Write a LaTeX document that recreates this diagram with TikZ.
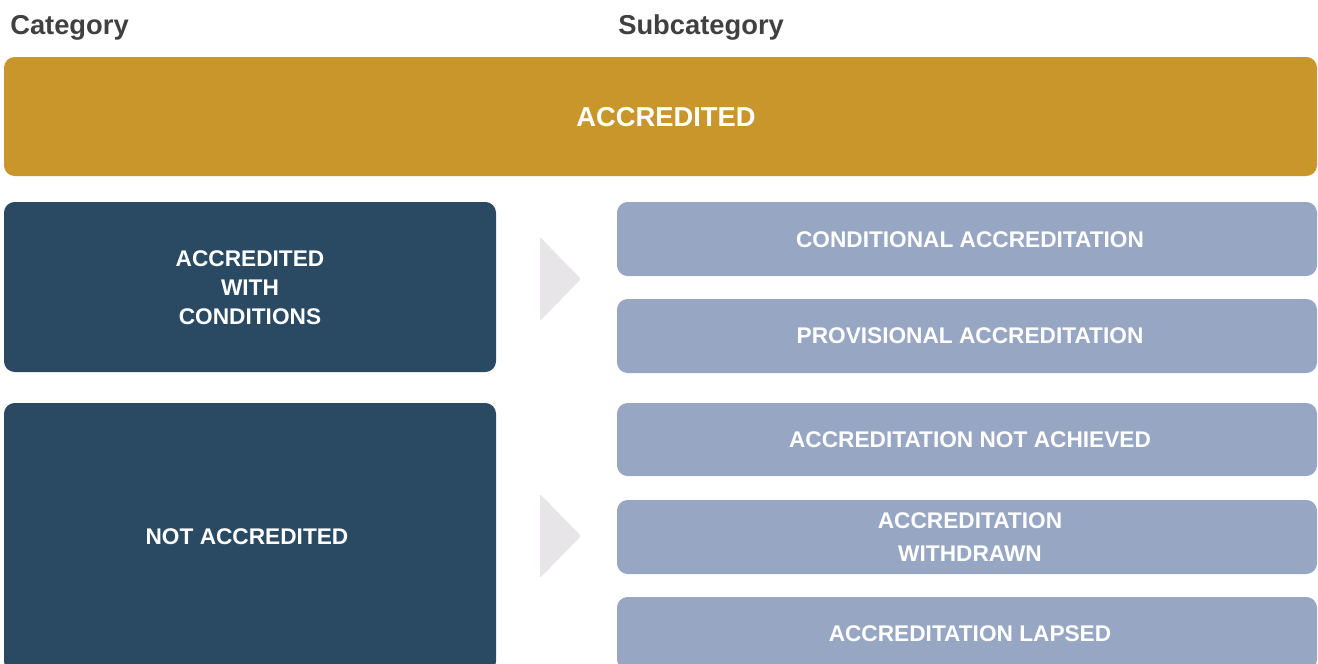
\documentclass[tikz,border=0pt]{standalone}
\usepackage{fontspec}
\setmainfont{Liberation Sans}
\usepackage{xcolor}
\usepackage{tikz}
\definecolor{accgold}{HTML}{C9962B}
\definecolor{accnavy}{HTML}{2A4A64}
\definecolor{accblue}{HTML}{97A6C3}
\definecolor{accarrow}{HTML}{E7E5E7}
\definecolor{headgrey}{HTML}{404040}
\tikzset{%
    catbox/.style={fill=accnavy, rounded corners=8pt},
    subbox/.style={fill=accblue, rounded corners=8pt},
    boxtext/.style={text=white, font=\bfseries\fontsize{17}{21.75}\selectfont, align=center, inner sep=0pt},
    headtext/.style={text=headgrey, font=\bfseries\fontsize{20.5}{24}\selectfont, anchor=base west, inner sep=0pt}
}

\begin{document}
\begin{tikzpicture}[x=0.75pt, y=-0.75pt]
  \useasboundingbox (0,0) rectangle (1318,664);
  \clip (0,0) rectangle (1318,664);

  \node[headtext] (cat) at (10,34) {Category};
  \node[headtext] (subcat) at (618,34) {Subcategory};

  \fill[accgold, rounded corners=8pt] (4,57) rectangle (1317,176);
  \node[boxtext, font=\bfseries\fontsize{20.5}{24}\selectfont] (accr) at (666,117) {ACCREDITED};

  \fill[catbox] (4,202) rectangle (496,372);
  \node[boxtext] (withcond) at (250,288) {ACCREDITED\\WITH\\CONDITIONS};
  \fill[catbox] (4,403) rectangle (496,672);
  \node[boxtext] (notacc) at (247,537) {NOT ACCREDITED};

  \fill[accarrow, rounded corners=1.5pt] (540,237) -- (581,279) -- (540,321) -- cycle;
  \fill[accarrow, rounded corners=1.5pt] (540,494) -- (581,536) -- (540,578) -- cycle;

  \fill[subbox] (617,202) rectangle (1317,276);
  \node[boxtext] (condacc) at (970,240) {CONDITIONAL ACCREDITATION};
  \fill[subbox] (617,299) rectangle (1317,373);
  \node[boxtext] (provacc) at (970,336) {PROVISIONAL ACCREDITATION};
  \fill[subbox] (617,403) rectangle (1317,476);
  \node[boxtext] (notach) at (970,440) {ACCREDITATION NOT ACHIEVED};
  \fill[subbox] (617,500) rectangle (1317,574);
  \node[boxtext] (withdr) at (970,537) {ACCREDITATION\\[3pt]WITHDRAWN};
  \fill[subbox] (617,597) rectangle (1317,670);
  \node[boxtext] (lapsed) at (970,634) {ACCREDITATION LAPSED};
\end{tikzpicture}
\end{document}
